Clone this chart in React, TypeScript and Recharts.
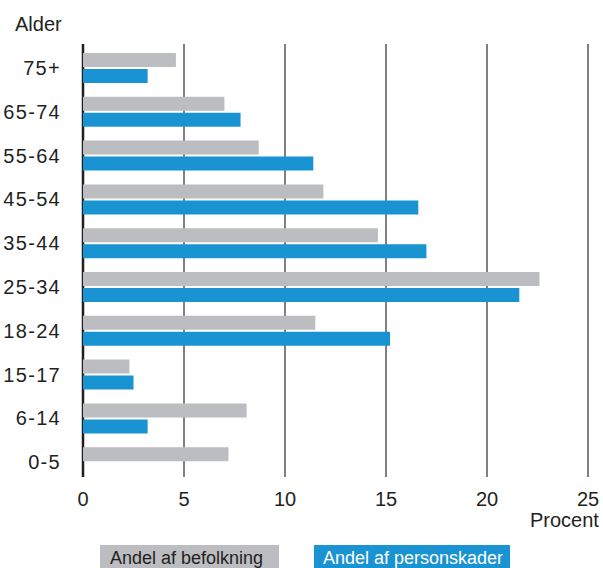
import { BarChart, Bar, XAxis, YAxis, CartesianGrid } from 'recharts';

const ageGroups = ['75+', '65-74', '55-64', '45-54', '35-44', '25-34', '18-24', '15-17', '6-14', '0-5'];
const populationShare = [4.6, 7.0, 8.7, 11.9, 14.6, 22.6, 11.5, 2.3, 8.1, 7.2];
const injuryShare = [3.2, 7.8, 11.4, 16.6, 17.0, 21.6, 15.2, 2.5, 3.2, 0];
const xTicks = [0, 5, 10, 15, 20, 25];

const GRAY = '#bcbdc0';
const BLUE = '#1a93d2';
const INK = '#231f20';
const FONT = '"Liberation Sans", Arial, Helvetica, sans-serif';

const data = ageGroups.map((age, i) => ({
  age,
  befolkning: populationShare[i],
  personskader: injuryShare[i],
}));

// age labels, right aligned a bit left of the axis line
function AgeTick(props: any) {
  const { y, payload } = props;
  return (
    <text
      x={61}
      y={y}
      dy={7}
      textAnchor="end"
      fontSize={20}
      fontFamily={FONT}
      fill={INK}
      letterSpacing={1.3}
    >
      {payload.value}
    </text>
  );
}

// vertical grid lines; the one at 0 doubles as the thick axis line
function GridLine(props: any) {
  const { x1, x2, y1, y2, index } = props;
  const isAxis = index === 0;
  return (
    <line
      x1={x1}
      x2={x2}
      y1={y1}
      y2={y2}
      stroke={isAxis ? INK : '#3c3c3c'}
      strokeWidth={isAxis ? 2.5 : 1.3}
    />
  );
}

export default function App() {
  return (
    <div style={{ position: 'absolute', left: 0, top: 0, width: 603, height: 568, fontFamily: FONT, color: INK }}>
      <div style={{ position: 'absolute', left: 15, top: 13, fontSize: 20 }}>Alder</div>

      <BarChart
        width={603}
        height={568}
        data={data}
        layout="vertical"
        margin={{ top: 46, right: 15, bottom: 54, left: 0 }}
        barSize={14}
        barGap={2}
      >
        <CartesianGrid horizontal={false} vertical={GridLine} y={44} height={433} />
        <XAxis
          type="number"
          domain={[0, 25]}
          ticks={xTicks}
          axisLine={false}
          tickLine={false}
          tickSize={0}
          tickMargin={8}
          height={30}
          tick={{ fontSize: 20, fill: INK, fontFamily: FONT }}
        />
        <YAxis
          type="category"
          dataKey="age"
          width={83}
          axisLine={false}
          tickLine={false}
          tick={<AgeTick />}
        />
        <Bar dataKey="befolkning" fill={GRAY} isAnimationActive={false} />
        <Bar dataKey="personskader" fill={BLUE} isAnimationActive={false} />
      </BarChart>

      <div style={{ position: 'absolute', left: 530, top: 509, fontSize: 20 }}>Procent</div>

      <div
        style={{
          position: 'absolute',
          left: 100,
          top: 545,
          width: 179,
          height: 23,
          background: GRAY,
          fontSize: 18,
          lineHeight: '26px',
          paddingLeft: 10,
          boxSizing: 'border-box',
          overflow: 'hidden',
          color: INK,
        }}
      >
        Andel af befolkning
      </div>
      <div
        style={{
          position: 'absolute',
          left: 314,
          top: 545,
          width: 196,
          height: 23,
          background: BLUE,
          fontSize: 18,
          lineHeight: '26px',
          paddingLeft: 9,
          boxSizing: 'border-box',
          overflow: 'hidden',
          color: '#ffffff',
        }}
      >
        Andel af personskader
      </div>
    </div>
  );
}
